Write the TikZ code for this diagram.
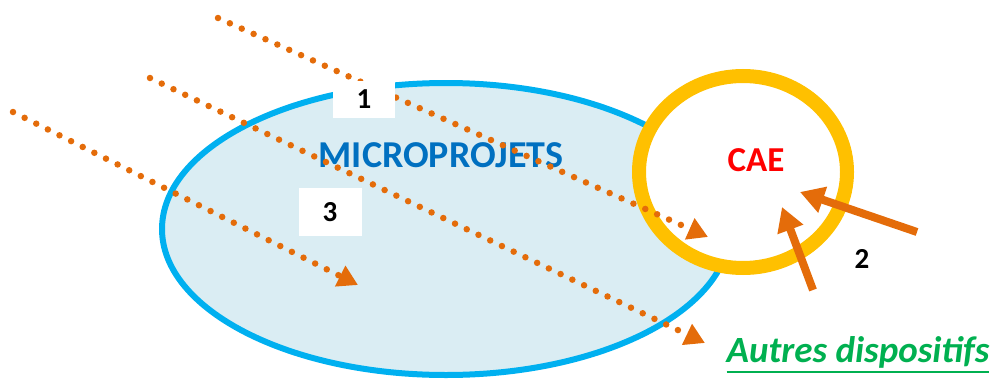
\documentclass[tikz,border=0pt]{standalone}
\usepackage{fontspec}
\setmainfont{Carlito}
\usetikzlibrary{arrows.meta}
\definecolor{skyline}{HTML}{00B0F0}
\definecolor{skyfill}{HTML}{DAEDF3}
\definecolor{ringgold}{HTML}{FFC000}
\definecolor{flow}{HTML}{E46C0A}
\definecolor{titleblue}{HTML}{0070C0}
\definecolor{leafgreen}{HTML}{00B050}
% underline with a heavier rule than \underline gives
\newcommand{\heavyunderline}[1]{\leavevmode\vtop{\hbox{#1}\kern2.5pt\hrule height 2.6pt}}
\tikzset{
  dotflow/.style={flow, line width=6.5pt, line cap=round, dash pattern=on 0pt off 13pt,
    -{Triangle[length=20pt,width=22pt,line cap=butt]}},
  pushflow/.style={flow, line width=8pt, -{Triangle[length=24pt,width=26pt]}},
  numbox/.style={fill=white, inner sep=0pt, font=\bfseries\fontsize{29}{29}\selectfont},
}
\begin{document}
\begin{tikzpicture}[x=1pt,y=-1pt]
\useasboundingbox (0,0) rectangle (993,380);
% domains
\draw[skyline, fill=skyfill, line width=6pt] (446,229) ellipse [x radius=284, y radius=146];
\draw[ringgold, fill=white, line width=14pt] (743,172) ellipse [x radius=104, y radius=96];
\node (micro) at (441,155) {\color{titleblue}\bfseries\fontsize{38}{38}\selectfont MICROPROJETS};
\node (cae) at (756,160) {\color{red}\bfseries\fontsize{35}{35}\selectfont CAE};
\node (autres) at (858,355) {\color{leafgreen}\bfseries\itshape\fontsize{37}{37}\selectfont\heavyunderline{Autres dispositifs}};
% dotted paths
\coordinate (a0) at (218,18);  \coordinate (a1) at (708,237);
\coordinate (b0) at (150,78);  \coordinate (b1) at (705,343);
\coordinate (c0) at (13,112);  \coordinate (c1) at (358,285);
\draw[dotflow] (a0) -- (a1);
\draw[dotflow] (b0) -- (b1);
\draw[dotflow] (c0) -- (c1);
% labels
\node[numbox, minimum width=62pt, minimum height=37pt] (n1) at (364,99) {1};
\node[numbox, minimum width=63pt, minimum height=48pt] (n3) at (330,212) {3};
\node[font=\bfseries\fontsize{29}{29}\selectfont] (n2) at (862,259) {2};
% solid arrows into CAE
\coordinate (p0) at (917,232); \coordinate (p1) at (800,192);
\coordinate (q0) at (813,290); \coordinate (q1) at (782,207);
\draw[pushflow] (p0) -- (p1);
\draw[pushflow] (q0) -- (q1);
\end{tikzpicture}
\end{document}
